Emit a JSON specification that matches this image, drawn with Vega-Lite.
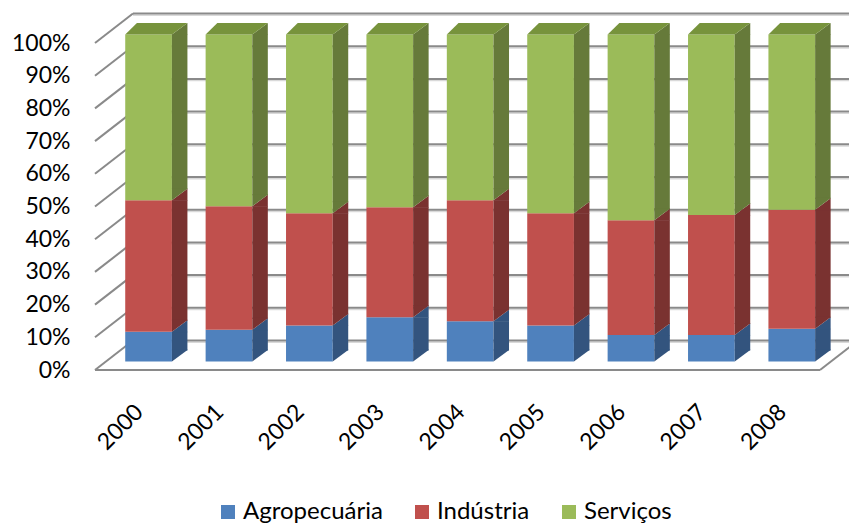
{
  "$schema": "https://vega.github.io/schema/vega-lite/v6.json",
  "autosize": {"type": "none"},
  "padding": {"left": 95, "top": 43, "right": 0, "bottom": 154},
  "width": 754,
  "height": 327,
  "background": "white",
  "config": {"font": "Lato", "view": {"stroke": null}},
  "datasets": {
    "shares": [
      {"year": "2000", "sector": "Agropecuária", "share": 9.1},
      {"year": "2000", "sector": "Indústria", "share": 40.2},
      {"year": "2000", "sector": "Serviços", "share": 50.7},
      {"year": "2001", "sector": "Agropecuária", "share": 9.7},
      {"year": "2001", "sector": "Indústria", "share": 37.8},
      {"year": "2001", "sector": "Serviços", "share": 52.5},
      {"year": "2002", "sector": "Agropecuária", "share": 11.0},
      {"year": "2002", "sector": "Indústria", "share": 34.3},
      {"year": "2002", "sector": "Serviços", "share": 54.7},
      {"year": "2003", "sector": "Agropecuária", "share": 13.5},
      {"year": "2003", "sector": "Indústria", "share": 33.7},
      {"year": "2003", "sector": "Serviços", "share": 52.8},
      {"year": "2004", "sector": "Agropecuária", "share": 12.3},
      {"year": "2004", "sector": "Indústria", "share": 37.0},
      {"year": "2004", "sector": "Serviços", "share": 50.7},
      {"year": "2005", "sector": "Agropecuária", "share": 11.0},
      {"year": "2005", "sector": "Indústria", "share": 34.3},
      {"year": "2005", "sector": "Serviços", "share": 54.7},
      {"year": "2006", "sector": "Agropecuária", "share": 8.1},
      {"year": "2006", "sector": "Indústria", "share": 35.1},
      {"year": "2006", "sector": "Serviços", "share": 56.8},
      {"year": "2007", "sector": "Agropecuária", "share": 8.1},
      {"year": "2007", "sector": "Indústria", "share": 36.7},
      {"year": "2007", "sector": "Serviços", "share": 55.2},
      {"year": "2008", "sector": "Agropecuária", "share": 10.0},
      {"year": "2008", "sector": "Indústria", "share": 36.4},
      {"year": "2008", "sector": "Serviços", "share": 53.6}
    ],
    "ticks": [
      {"v": 0}, {"v": 0.1}, {"v": 0.2}, {"v": 0.3}, {"v": 0.4}, {"v": 0.5},
      {"v": 0.6}, {"v": 0.7}, {"v": 0.8}, {"v": 0.9}, {"v": 1}
    ]
  },
  "encoding": {
    "y": {
      "type": "quantitative", "scale": {"domain": [0, 1]},
      "axis": {
        "title": null, "values": [0, 0.1, 0.2, 0.3, 0.4, 0.5, 0.6, 0.7, 0.8, 0.9, 1],
        "tickCount": 11, "format": ".0%", "labelFontSize": 23, "labelColor": "#000", "labelPadding": 25,
        "labelOverlap": false, "labelSeparation": 0, "domain": false, "ticks": false, "grid": false
      }
    }
  },
  "layer": [
    {
      "data": {"name": "ticks"},
      "mark": {"type": "rule", "xOffset": 38, "yOffset": -27.8, "stroke": "#d9d9d9", "strokeWidth": 1.5},
      "encoding": {
        "x": {"value": 0},
        "x2": {"value": "width"},
        "y": {"field": "v"}
      }
    },
    {
      "data": {"name": "ticks"},
      "mark": {"type": "rule", "xOffset": 38, "yOffset": -29.5, "stroke": "#8a8a8a", "strokeWidth": 2},
      "encoding": {
        "x": {"value": 0},
        "x2": {"value": "width"},
        "y": {"field": "v"}
      }
    },
    {
      "data": {"name": "ticks"},
      "mark": {"type": "rule", "x2Offset": 38, "y2Offset": -29.5, "stroke": "#8a8a8a", "strokeWidth": 2},
      "encoding": {
        "x": {"value": 0},
        "x2": {"value": 0},
        "y": {"field": "v"},
        "y2": {"field": "v"}
      }
    },
    {
      "data": {"name": "ticks"},
      "transform": [{"filter": "datum.v == 0"}],
      "mark": {"type": "rule", "x2Offset": -29, "stroke": "#8a8a8a", "strokeWidth": 2},
      "encoding": {
        "x": {"value": 0},
        "x2": {"value": "width"},
        "y": {"field": "v"}
      }
    },
    {
      "data": {"name": "ticks"},
      "transform": [{"filter": "datum.v == 0"}],
      "mark": {"type": "rule", "xOffset": -29, "x2Offset": 9, "y2Offset": -29.5, "stroke": "#8a8a8a", "strokeWidth": 2},
      "encoding": {
        "x": {"value": "width"},
        "x2": {"value": "width"},
        "y": {"field": "v"},
        "y2": {"field": "v"}
      }
    },
    {
      "data": {"name": "shares"},
      "transform": [
        {"stack": "share", "groupby": ["year"], "sort": [{"field": "sector"}], "offset": "normalize", "as": ["y0", "y1"]}
      ],
      "layer": [
        {
          "mark": {"type": "bar", "width": 46.7, "yOffset": -8.5, "y2Offset": -8.5},
          "encoding": {
            "x": {
              "field": "year", "type": "ordinal",
              "scale": {"paddingInner": 0, "paddingOuter": 0.189, "align": 0.44},
              "axis": {
                "title": null, "labelAngle": -45, "labelAlign": "right", "labelBaseline": "middle",
                "labelFontSize": 23, "labelColor": "#000", "labelPadding": 38, "labelOffset": -9,
                "domain": false, "ticks": false
              }
            },
            "y": {"field": "y1"},
            "y2": {"field": "y0"},
            "color": {
              "field": "sector", "type": "nominal",
              "scale": {"domain": ["Agropecuária", "Indústria", "Serviços"], "range": ["#4F81BD", "#C0504D", "#9BBB59"]},
              "legend": {
                "title": null, "orient": "none", "legendX": 121, "legendY": 457,
                "direction": "horizontal", "symbolType": "square",
                "symbolSize": 196, "symbolStrokeWidth": 0, "labelFontSize": 24, "labelColor": "#000",
                "labelLimit": 300, "columnPadding": 27, "labelOffset": 3
              }
            }
          }
        },
        {
          "mark": {"type": "bar", "width": 15.5, "xOffset": 31.1, "yOffset": -8.5, "y2Offset": -19.5},
          "encoding": {
            "x": {"field": "year", "type": "ordinal"},
            "y": {"field": "y1"},
            "y2": {"field": "y0"},
            "fill": {
              "field": "sector", "type": "nominal",
              "scale": {"domain": ["Agropecuária", "Indústria", "Serviços"], "range": ["#33547E", "#7A3230", "#667A3A"]},
              "legend": null
            }
          }
        },
        {
          "mark": {"type": "point", "shape": "M 23.35 0.5 L 23.35 0 L 38.85 -11.5 L 38.85 0.5 Z", "size": 4, "filled": true, "opacity": 1, "strokeWidth": 0, "yOffset": -8.5},
          "encoding": {
            "x": {"field": "year", "type": "ordinal"},
            "y": {"field": "y1"},
            "fill": {"field": "sector", "type": "nominal", "legend": null}
          }
        },
        {
          "mark": {"type": "point", "shape": "M 23.35 -12 L 38.85 -12 L 38.85 -11.5 L 23.35 0 Z", "size": 4, "filled": true, "opacity": 1, "strokeWidth": 0, "yOffset": -8.5},
          "encoding": {
            "x": {"field": "year", "type": "ordinal"},
            "y": {"field": "y0"},
            "fill": {"field": "sector", "type": "nominal", "legend": null}
          }
        },
        {
          "transform": [{"filter": "datum.sector == 'Serviços'"}],
          "mark": {"type": "point", "shape": "M -23.35 0 L 23.35 0 L 38.85 -11.5 L -11.65 -11.5 Z", "size": 4, "filled": true, "opacity": 1, "strokeWidth": 0, "fill": "#77933C", "yOffset": -8.5},
          "encoding": {
            "x": {"field": "year", "type": "ordinal"},
            "y": {"field": "y1"}
          }
        }
      ]
    }
  ]
}
